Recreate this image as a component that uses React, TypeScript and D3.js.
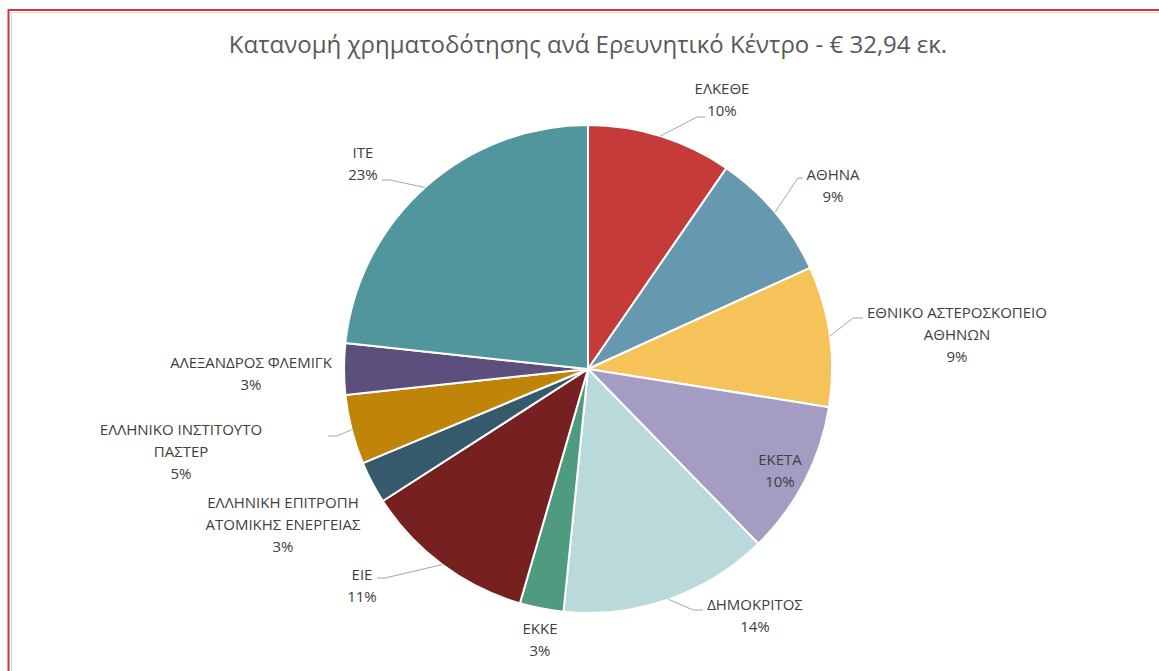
import React from "react";
import * as d3 from "d3";

// ---- data ----
const categories = [
  "ΕΛΚΕΘΕ",
  "ΑΘΗΝΑ",
  "ΕΘΝΙΚΟ ΑΣΤΕΡΟΣΚΟΠΕΙΟ ΑΘΗΝΩΝ",
  "ΕΚΕΤΑ",
  "ΔΗΜΟΚΡΙΤΟΣ",
  "ΕΚΚΕ",
  "ΕΙΕ",
  "ΕΛΛΗΝΙΚΗ ΕΠΙΤΡΟΠΗ ΑΤΟΜΙΚΗΣ ΕΝΕΡΓΕΙΑΣ",
  "ΕΛΛΗΝΙΚΟ ΙΝΣΤΙΤΟΥΤΟ ΠΑΣΤΕΡ",
  "ΑΛΕΞΑΝΔΡΟΣ ΦΛΕΜΙΓΚ",
  "ΙΤΕ",
];
// funding share (%)
const shares = [9.6, 8.6, 9.3, 10.2, 13.9, 2.9, 11.4, 2.8, 4.6, 3.4, 23.3];
// label text split into lines
const labelLines = [
  ["ΕΛΚΕΘΕ"],
  ["ΑΘΗΝΑ"],
  ["ΕΘΝΙΚΟ ΑΣΤΕΡΟΣΚΟΠΕΙΟ", "ΑΘΗΝΩΝ"],
  ["ΕΚΕΤΑ"],
  ["ΔΗΜΟΚΡΙΤΟΣ"],
  ["ΕΚΚΕ"],
  ["ΕΙΕ"],
  ["ΕΛΛΗΝΙΚΗ ΕΠΙΤΡΟΠΗ", "ΑΤΟΜΙΚΗΣ ΕΝΕΡΓΕΙΑΣ"],
  ["ΕΛΛΗΝΙΚΟ ΙΝΣΤΙΤΟΥΤΟ", "ΠΑΣΤΕΡ"],
  ["ΑΛΕΞΑΝΔΡΟΣ ΦΛΕΜΙΓΚ"],
  ["ΙΤΕ"],
];
const title = "Κατανομή χρηματοδότησης ανά Ερευνητικό Κέντρο - € 32,94 εκ.";

// ---- styles / layout ----
const colors = [
  "#C43B3A",
  "#6699B0",
  "#F6C35A",
  "#A49CC2",
  "#B9D9DA",
  "#4E9B7F",
  "#772020",
  "#365A6B",
  "#C08508",
  "#5D4F7C",
  "#52969D",
];
// label block centre relative to pie centre, plus leader knee / end (relative)
const labelLayout: { dx: number; dy: number; knee?: [number, number]; end?: [number, number] }[] = [
  { dx: 134, dy: -269, knee: [109, -252], end: [117, -252] },
  { dx: 245, dy: -183, knee: [210, -191], end: [215, -191] },
  { dx: 369, dy: -34, knee: [265, -51], end: [275, -51] },
  { dx: 192, dy: 102 },
  { dx: 167, dy: 247, knee: [105, 241], end: [115, 241] },
  { dx: -48, dy: 271 },
  { dx: -226, dy: 217, knee: [-203, 209], end: [-211, 209] },
  { dx: -305, dy: 156 },
  { dx: -407, dy: 83, knee: [-251, 67], end: [-260, 67] },
  { dx: -337, dy: 5 },
  { dx: -225, dy: -205, knee: [-198, -189], end: [-206, -189] },
];

const W = 1159;
const H = 671;
const cx = 588;
const cy = 369;
const R = 244;
const FONT = "'Open Sans', 'Noto Sans', sans-serif";

export default function App() {
  const total = d3.sum(shares);
  const pie = d3
    .pie<number>()
    .sort(null)
    .value((d) => d)
    .startAngle(0)
    .endAngle(2 * Math.PI);
  const arcs = pie(shares);
  const arc = d3.arc<d3.PieArcDatum<number>>().innerRadius(0).outerRadius(R);
  const pctFmt = (v: number) => `${Math.round((v / total) * 100)}%`;
  const lineH = 22;

  return (
    <svg
      width={W}
      height={H}
      style={{ position: "absolute", left: 0, top: 0, background: "#fff" }}
    >
      {/* frame */}
      <line x1={8} y1={10} x2={W} y2={10} stroke="#D0343A" strokeWidth={2} />
      <line x1={8.5} y1={9} x2={8.5} y2={H} stroke="#D0343A" strokeWidth={2} />
      <line x1={11} y1={12.5} x2={W} y2={12.5} stroke="#D9D9D9" strokeWidth={1} />
      <line x1={11.5} y1={12} x2={11.5} y2={H} stroke="#D9D9D9" strokeWidth={1} />

      <text
        x={cx}
        y={53}
        textAnchor="middle"
        fontFamily={FONT}
        fontSize={24}
        fill="#595959"
      >
        {title}
      </text>

      <g transform={`translate(${cx},${cy})`}>
        {arcs.map((a, i) => (
          <path
            key={i}
            d={arc(a) || ""}
            fill={colors[i]}
            stroke="#fff"
            strokeWidth={2}
            strokeLinejoin="round"
          />
        ))}
        {arcs.map((a, i) => {
          const L = labelLayout[i];
          if (!L.knee || !L.end) return null;
          const mid = (a.startAngle + a.endAngle) / 2;
          const sx = Math.sin(mid) * R;
          const sy = -Math.cos(mid) * R;
          const p = d3.path();
          p.moveTo(sx, sy);
          p.lineTo(L.knee[0], L.knee[1]);
          p.lineTo(L.end[0], L.end[1]);
          return (
            <path key={"l" + i} d={p.toString()} fill="none" stroke="#A6A6A6" strokeWidth={1} />
          );
        })}
        {arcs.map((a, i) => {
          const L = labelLayout[i];
          const lines = [...labelLines[i], pctFmt(shares[i])];
          const top = L.dy - ((lines.length - 1) * lineH) / 2;
          return (
            <text
              key={"t" + i}
              textAnchor="middle"
              fontFamily={FONT}
              fontSize={15}
              fill="#404040"
            >
              {lines.map((ln, j) => (
                <tspan key={j} x={L.dx} y={top + j * lineH} dy="0.35em">
                  {ln}
                </tspan>
              ))}
            </text>
          );
        })}
      </g>
    </svg>
  );
}
